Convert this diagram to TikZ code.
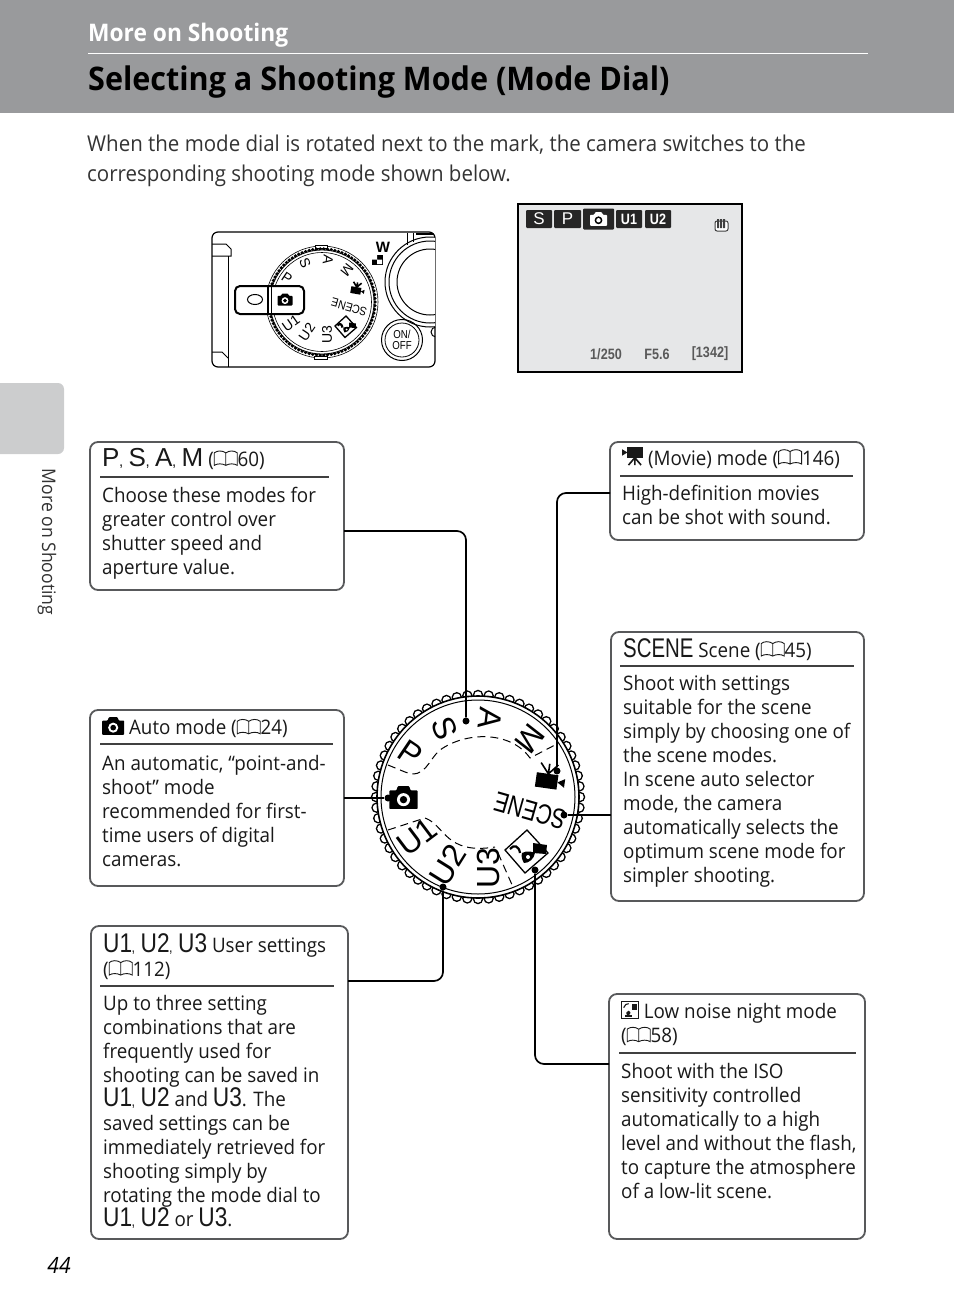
\documentclass[tikz,border=0pt]{standalone}
\usepackage{fontspec}
\setmainfont[FakeStretch=.94]{Open Sans}
\newfontfamily\dialfont{Liberation Sans}
\newfontfamily\modefont[FakeStretch=.84]{Liberation Sans}
\usetikzlibrary{positioning,calc}
\definecolor{headgray}{HTML}{999A9C}
\definecolor{tabgray}{HTML}{CCCDCE}
\definecolor{boxline}{HTML}{58595B}
\definecolor{lcdgray}{HTML}{E6E7E8}

% scale, foreground, background
\newcommand{\camglyph}[3]{\tikz[x=#1pt,y=#1pt,baseline=0pt]{%
  \fill[#2,rounded corners=.8] (0,0) -- (20,0) -- (20,13) -- (15,13) -- (14,16) -- (6,16) -- (5,13) -- (0,13) -- cycle;
  \fill[#3] (10,6.5) circle (4.6);
  \fill[#2] (10,6.5) circle (2.6);}}
\newcommand{\bookglyph}{\tikz[x=1pt,y=1pt,baseline=-1pt]{%
  \draw[line width=.9pt] (12.5,0) -- (12.5,12.5) .. controls (9,15) and (4,15) .. (1,12.5) -- (1,0) .. controls (4,2) and (9,2) .. (12.5,0)
       .. controls (16,2) and (21,2) .. (24,0) -- (24,12.5) .. controls (21,15) and (16,15) .. (12.5,12.5);}}
\newcommand{\movieglyph}[1]{\tikz[x=#1pt,y=#1pt,baseline=0pt]{%
  \fill (5,7) rectangle (20,17);
  \fill (5,12) -- (0,15) -- (0,9) -- cycle;
  \draw[line width=1.6pt] (12,7) -- (6,0) (12,7) -- (12,0) (12,7) -- (18,0);}}
\newcommand{\nightglyph}[1]{\tikz[x=#1pt,y=#1pt,baseline=0pt]{%
  \draw[line width=.9pt,fill=white] (0,0) rectangle (17,17);
  \fill (10,9) rectangle (15,15);
  \fill (3,1.5) rectangle (10,3.5);
  \fill (6.5,3) .. controls (3,5) and (5,8) .. (7,8) .. controls (9,8) and (10,5) .. (6.5,3);
  \draw[line width=1.1pt] (2,11) .. controls (3,14) and (5,15) .. (7,15);}}
\newcommand{\modeltr}[1]{{\modefont\fontsize{27}{27}\selectfont #1}}
\newcommand{\psamltr}[1]{{\dialfont\fontsize{26}{26}\selectfont #1}}
\newcommand{\mcm}{{\fontsize{15}{15}\selectfont\kern-.5pt,\kern5.5pt}}
\newcommand{\scenetxt}{\modeltr{\scalebox{.9}[1]{SCENE}}}

\begin{document}
\begin{tikzpicture}[x=1pt,y=-1pt,
  infobox/.style={draw=boxline, line width=1.8pt, rounded corners=8pt, fill=white},
  titletxt/.style={anchor=north west, inner sep=0pt, align=left, text=black!90,
                   font=\fontsize{20}{24}\selectfont, execute at begin node=\strut},
  bodytxt/.style={anchor=north west, inner sep=0pt, align=left, text=black!90,
                  font=\fontsize{20}{24}\selectfont, execute at begin node=\strut},
  titlerule/.style={draw=black!75, line width=1.4pt},
  dot/.style={circle, fill=black, inner sep=0pt, minimum size=7pt},
  wire/.style={draw=black, line width=1.7pt, rounded corners=9pt},
  dialtxt/.style={font=\dialfont\fontsize{32}{32}\selectfont, inner sep=0pt},
  minitxt/.style={font=\dialfont\fontsize{14}{14}\selectfont, inner sep=0pt},
  lcdkey/.style={fill=black!85, text=white, rounded corners=1pt, inner sep=0pt,
                 minimum height=18pt, font=\dialfont\fontsize{17}{17}\selectfont},
  lcdsmall/.style={lcdkey, minimum width=26pt, font=\modefont\bfseries\fontsize{15}{15}\selectfont},
  lcdtxt/.style={font=\modefont\bfseries\fontsize{15}{15}\selectfont, inner sep=0pt, text=black!65},
  dashpath/.style={draw=black, line width=1pt, dash pattern=on 8pt off 5pt},
  nightmark/.pic={
    \draw[line width=1.3pt, fill=white] (0,-22) -- (21,1) -- (-2,21) -- (-22,-2) -- cycle;
    \fill (6,-9) -- (20,-7) -- (19,2) -- (6,1) -- cycle;
    \draw[line width=2.2pt] (-17,-3) .. controls (-13,-8) and (-8,-6) .. (-7,1);
    \fill (-5,1) .. controls (0,-2) and (6,0) .. (8,1) .. controls (7,7) and (2,11) .. (-3,11) .. controls (-5,8) and (-6,4) .. (-5,1);
    \fill[white] (1,5) circle (2);},
]
  \useasboundingbox (0,0) rectangle (954,1314);

  % ===== Page header =====
  \fill[headgray] (0,0) rectangle (954,113);
  \fill[tabgray, rounded corners=6pt] (-10,383) rectangle (64,454);
  \draw[white, line width=.7pt] (88,53) -- (868,53);
  \node[anchor=west, inner sep=0pt, text=white, font=\bfseries\fontsize{24.2}{24}\selectfont] (section) at (88,35.5) {More on Shooting};
  \node[anchor=west, inner sep=0pt, font=\bfseries\fontsize{32.5}{32}\selectfont] (title) at (88,82.5) {Selecting a Shooting Mode (Mode Dial)};
  \node[anchor=north west, inner sep=0pt, align=left, text=black!80, font=\fontsize{21.8}{30}\selectfont,
        execute at begin node=\strut] (intro) at (87,135)
       {When the mode dial is rotated next to the mark, the camera switches to the\\corresponding shooting mode shown below.};
  \node[rotate=-90, inner sep=0pt, text=black!80, font=\fontsize{18.7}{18}\selectfont] (sidetab) at (47,542) {More on Shooting};
  \node[inner sep=0pt, font=\itshape\fontsize{22.5}{22}\selectfont] (pagenum) at (59,1265) {44};

  % ===== Camera body (top view) =====
  \draw[line width=1.2pt, rounded corners=6pt, fill=white] (212,232) rectangle (435,367);
  \begin{scope}
    \clip[rounded corners=6pt] (212,232) rectangle (435,367);
    \draw[line width=1pt, fill=white] (430,282) circle (45);
    \draw[line width=1pt] (430,282) circle (41);
    \draw[line width=1pt] (430,282) circle (33);
    \draw[line width=1pt] (436,332) circle (5);
    \draw[line width=1pt] (407,233) -- (407,245) (413,233) -- (413,242);
    \draw[line width=2pt] (416,234) -- (433,234);
  \end{scope}
  \draw[line width=1pt] (212,244) -- (226,244) -- (231,249) -- (231,256) -- (212,256);
  \draw[line width=1pt] (228,256) -- (228,367);
  \draw[line width=1pt] (212,352) -- (222,352) -- (228,358);
  \node[inner sep=0pt, font=\dialfont\bfseries\fontsize{15}{15}\selectfont] (wide) at (383,247) {W};
  \draw[fill=black] (372,255) rectangle (382,264);
  \fill[white] (372,255) rectangle (377,259.5) (377,259.5) rectangle (382,264);

  % mini dial
  \draw[line width=.6pt] (322,302) circle (56);
  \draw[line width=.6pt, fill=white] (315,245) rectangle (327,248);
  \draw[line width=.6pt, fill=white] (314,356) rectangle (327,359);
  \foreach \a in {0,4,...,356}
    \fill (322,302) ++(\a:53) circle (1.9);
  \draw[line width=.8pt, fill=white] (322,302) circle (52);
  \draw[line width=.6pt] (322,302) circle (49.5);
  \foreach \lx/\ly/\lr/\lt in {287/278/-34/P, 305/263/-68/S, 328/260/-97/A, 347/270/-128/M, 327/335/90/U3, 307/332/56/U2}
    \node[minitxt, rotate=\lr] at (\lx,\ly) {\lt};
  \node[minitxt, rotate=164, font=\dialfont\fontsize{12}{12}\selectfont] (miniscene) at (349,307) {\scalebox{.88}[1]{SCENE}};
  \node[rotate=170, inner sep=0pt] (minimovie) at (358,288) {\movieglyph{.68}};
  \pic[scale=.5] at (346,327) {nightmark};

  % selection window and button (the U1 label slips under it)
  \node[minitxt, rotate=35] (miniuone) at (291,323) {U1};
  \draw[line width=2pt, rounded corners=5pt, fill=white] (235,286) rectangle (304,314);
  \draw[line width=1.4pt] (268,286) -- (268,314);
  \draw[line width=.7pt] (271,286) -- (271,314);
  \draw[line width=1pt] (255,299.5) ellipse (7.5 and 5);
  \node[inner sep=0pt] (minicam) at (285,299.5) {\camglyph{.75}{black}{white}};
  \draw[line width=1pt] (402,340) circle (20.5);
  \draw[line width=.8pt] (402,340) circle (17);
  \node[inner sep=0pt, align=center, font=\modefont\fontsize{11.5}{11}\selectfont] (onoff) at (402,340) {ON/\\OFF};

  % ===== LCD preview =====
  \draw[line width=1.2pt, fill=lcdgray] (518,204) rectangle (742,372);
  \node[lcdkey, minimum width=26pt] (keys) at (539,219) {S};
  \node[lcdkey, minimum width=27pt] (keyp) at (567.5,219) {P};
  \node[lcdkey, minimum width=31pt, minimum height=21pt] (keycam) at (598.5,219) {\camglyph{.85}{white}{black}};
  \node[lcdsmall] (keyua) at (629,219) {U1};
  \node[lcdsmall] (keyub) at (658,219) {U2};
  \draw[black!75, line width=1pt, rounded corners=2pt, fill=white] (715,221) rectangle (728,231);
  \fill[black!75] (717,219) rectangle (719,228) (720,219) rectangle (722,228) (723,219) rectangle (725,228);
  \node[lcdtxt] (shutter) at (606,354) {1/250};
  \node[lcdtxt] (fstop) at (657,354) {F5.6};
  \node[lcdtxt] (shots) at (710,354) {[1342]};

  % ===== Mode dial =====
  \foreach \a in {0,6,...,354}
    \draw[line width=1.6pt] (478,797) ++(\a:102) circle (4.4);
  \foreach \a in {0,6,...,354}
    \fill[white] (478,797) ++(\a:102) circle (3.7);
  \draw[line width=1.6pt, fill=white] (478,797) circle (101);
  \draw[line width=1pt] (478,797) circle (97);
  \foreach \lx/\ly/\lr/\lt in {410/753/-34/P, 445/728/-68/S, 490/718/-97/A, 530/739/-128/M, 417/837/37/U1, 448/865/58/U2, 488/868/90/U3}
    \node[dialtxt, rotate=\lr] at (\lx,\ly) {\lt};
  \node[dialtxt, rotate=164, font=\dialfont\fontsize{28}{28}\selectfont] (dialscene) at (530,811) {\scalebox{.76}[1]{SCENE}};
  \node[inner sep=0pt] (dialcam) at (403.5,797.5) {\camglyph{1.42}{black}{white}};
  \node[rotate=172, inner sep=0pt] (dialmovie) at (551,776) {\movieglyph{1.45}};
  \pic at (527,852) {nightmark};
  % dashed guides on the dial face
  \draw[dashpath] (388,765) -- (405,772) .. controls (425,780) and (428,760) .. (440,750) .. controls (465,732) and (510,730) .. (530,758) -- (555,745);
  \draw[dashpath] (388,830) -- (425,818) .. controls (445,825) and (445,855) .. (495,847);
  \draw[dashpath] (498,853) -- (513,887);

  % ===== Info boxes =====
  \draw[infobox] (90,442) rectangle (344,590);
  \draw[infobox] (610,442) rectangle (864,540);
  \draw[infobox] (611,632) rectangle (864,901);
  \draw[infobox] (90,710) rectangle (344,886);
  \draw[infobox] (91,926) rectangle (348,1239);
  \draw[infobox] (609,994) rectangle (865,1239);
  \draw[titlerule] (100,477) -- (329,477);
  \draw[titlerule] (620,476) -- (853,476);
  \draw[titlerule] (620,666) -- (854,666);
  \draw[titlerule] (100,744) -- (333,744);
  \draw[titlerule] (100,986) -- (334,986);
  \draw[titlerule, line width=2.4pt] (619,1053) -- (856,1053);

  \node[titletxt] (psamhead) at (102,448) {\psamltr{P\mcm S\mcm A\mcm M} (\bookglyph60)};
  \node[bodytxt] (psambody) at (102,487) {Choose these modes for\\greater control over\\shutter speed and\\aperture value.};

  \node[titletxt] (moviehead) at (622,447) {\movieglyph{1.05} (Movie) mode (\bookglyph146)};
  \node[bodytxt] (moviebody) at (622,485) {High-definition movies\\can be shot with sound.};

  \node[titletxt] (scenehead) at (623,638) {\scenetxt\ Scene (\bookglyph45)};
  \node[bodytxt] (scenebody) at (623,675) {Shoot with settings\\suitable for the scene\\simply by choosing one of\\the scene modes.\\In scene auto selector\\mode, the camera\\automatically selects the\\optimum scene mode for\\simpler shooting.};

  \node[titletxt] (autohead) at (102,717) {\camglyph{1.1}{black}{white} Auto mode (\bookglyph24)};
  \node[bodytxt] (autobody) at (102,755) {An automatic, “point-and-\\shoot” mode\\recommended for first-\\time users of digital\\cameras.};

  \node[titletxt] (userhead) at (103,933) {\modeltr{U1\mcm U2\mcm U3} User settings\\(\bookglyph112)};
  \node[bodytxt] (userbody) at (103,995) {Up to three setting\\combinations that are\\frequently used for\\shooting can be saved in\\\modeltr{U1\mcm U2} and \modeltr{U3}. The\\saved settings can be\\immediately retrieved for\\shooting simply by\\rotating the mode dial to\\\modeltr{U1\mcm U2} or \modeltr{U3}.};

  \node[titletxt] (nighthead) at (621,1001) {\nightglyph{1} Low noise night mode\\(\bookglyph58)};
  \node[bodytxt] (nightbody) at (621,1063) {Shoot with the ISO\\sensitivity controlled\\automatically to a high\\level and without the flash,\\to capture the atmosphere\\of a low-lit scene.};

  % ===== Connectors =====
  \node[dot] (dotpsam) at (466,721) {};
  \node[dot] (dotmovie) at (557,771) {};
  \node[dot] (dotscene) at (564,815) {};
  \node[dot] (dotnight) at (535,870) {};
  \node[dot] (dotuser) at (443,887) {};
  \node[dot] (dotauto) at (388,798) {};
  \coordinate (psamout) at (344,531);
  \coordinate (movieout) at (610,493);
  \coordinate (sceneout) at (611,815);
  \coordinate (autoout) at (344,798);
  \coordinate (userout) at (348,981);
  \coordinate (nightout) at (609,1064);
  \draw[wire] (psamout) -| (dotpsam);
  \draw[wire] (movieout) -| (dotmovie);
  \draw[wire] (sceneout) -- (dotscene);
  \draw[wire] (autoout) -- (dotauto);
  \draw[wire] (userout) -| (dotuser);
  \draw[wire] (nightout) -| (dotnight);

\end{tikzpicture}
\end{document}
